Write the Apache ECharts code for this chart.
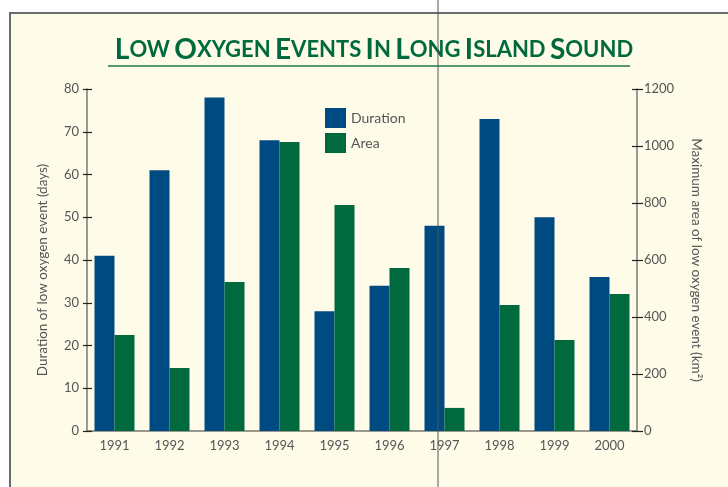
<!DOCTYPE html>
<html>
<head>
<meta charset="utf-8">
<script src="https://cdn.jsdelivr.net/npm/echarts@6/dist/echarts.min.js"></script>
<style>
html,body{margin:0;padding:0;background:#fff;}
#c{width:728px;height:487px;}
</style>
</head>
<body>
<div id="c"></div>
<script>
const years = ['1991','1992','1993','1994','1995','1996','1997','1998','1999','2000'];
const duration = [41, 61, 78, 68, 28, 34, 48, 73, 50, 36];
const area = [337, 221, 523, 1014, 793, 572, 81, 442, 319, 481];
const durationTicks = {min: 0, max: 80, interval: 10};
const areaTicks = {min: 0, max: 1200, interval: 200};

const FONT = 'Lato, "Open Sans", sans-serif';
const BLUE = '#004a82';
const GREEN = '#006a3e';
const TXT = '#555555';
const AX = '#7a7a72';

const chart = echarts.init(document.getElementById('c'), null, {renderer: 'canvas'});
const grid = {left: 87, right: 91, top: 89, bottom: 56};

chart.setOption({
  backgroundColor: '#ffffff',
  animation: false,
  textStyle: {fontFamily: FONT},
  title: {
    text: '{b|L}{s|OW} {b|O}{s|XYGEN} {b|E}{s|VENTS} {b|I}{s|N} {b|L}{s|ONG} {b|I}{s|SLAND} {b|S}{s|OUND}',
    left: 369,
    textAlign: 'center',
    top: 31,
    textStyle: {
      rich: {
        b: {fontFamily: FONT, fontWeight: 'bold', fontSize: 28, color: GREEN},
        s: {fontFamily: FONT, fontWeight: 'bold', fontSize: 22, color: GREEN}
      }
    }
  },
  legend: {
    orient: 'vertical',
    left: 325,
    top: 108,
    padding: 0,
    itemWidth: 21,
    itemHeight: 20,
    itemGap: 5,
    icon: 'rect',
    textStyle: {color: TXT, fontSize: 14, fontFamily: FONT},
    data: ['Duration', 'Area']
  },
  grid: grid,
  xAxis: [{
    type: 'category',
    data: years,
    axisLine: {lineStyle: {color: AX, width: 1.5}},
    axisTick: {alignWithLabel: true, length: 5, lineStyle: {color: '#222', width: 1.2}},
    axisLabel: {color: TXT, fontSize: 13, margin: 8, fontFamily: FONT}
  }, {
    type: 'category',
    data: years,
    position: 'bottom',
    axisLine: {show: false},
    axisTick: {alignWithLabel: true, inside: true, length: 4, lineStyle: {color: '#222', width: 1.2}},
    axisLabel: {show: false}
  }],
  yAxis: [{
    type: 'value',
    position: 'left',
    min: durationTicks.min, max: durationTicks.max, interval: durationTicks.interval,
    name: 'Duration of low oxygen event (days)',
    nameLocation: 'middle',
    nameGap: 37,
    nameTextStyle: {color: TXT, fontSize: 13.5, fontFamily: FONT, padding: [0, 20, 0, 0]},
    axisLine: {show: true, lineStyle: {color: AX, width: 1.5}},
    axisTick: {show: true, length: 4, lineStyle: {color: '#222', width: 1.2}},
    axisLabel: {color: TXT, fontSize: 13, margin: 8, fontFamily: FONT},
    splitLine: {show: false}
  }, {
    type: 'value',
    position: 'right',
    min: areaTicks.min, max: areaTicks.max, interval: areaTicks.interval,
    name: 'Maximum area of low oxygen event (km\u00B2)',
    nameLocation: 'middle',
    nameRotate: -90,
    nameGap: 52,
    nameTextStyle: {color: TXT, fontSize: 13.5, fontFamily: FONT},
    axisLine: {show: true, lineStyle: {color: AX, width: 1.5}},
    axisTick: {show: true, length: 6, lineStyle: {color: '#222', width: 1.2}},
    axisLabel: {color: TXT, fontSize: 13, margin: 7, fontFamily: FONT, formatter: function (v) { return String(v); }},
    splitLine: {show: false}
  }, {
    type: 'value',
    position: 'left',
    min: durationTicks.min, max: durationTicks.max, interval: durationTicks.interval,
    axisLine: {show: false},
    axisTick: {show: true, inside: true, length: 5, lineStyle: {color: '#222', width: 1.2}},
    axisLabel: {show: false},
    splitLine: {show: false}
  }, {
    type: 'value',
    position: 'right',
    min: areaTicks.min, max: areaTicks.max, interval: areaTicks.interval,
    axisLine: {show: false},
    axisTick: {show: true, inside: true, length: 5, lineStyle: {color: '#222', width: 1.2}},
    axisLabel: {show: false},
    splitLine: {show: false}
  }],
  series: [{
    name: 'Duration',
    type: 'bar',
    xAxisIndex: 0,
    yAxisIndex: 0,
    data: duration,
    barWidth: 20,
    barGap: '0%',
    itemStyle: {color: BLUE}
  }, {
    name: 'Area',
    type: 'bar',
    xAxisIndex: 0,
    yAxisIndex: 1,
    data: area,
    barWidth: 20,
    barGap: '0%',
    itemStyle: {color: GREEN}
  }],
  graphic: [{
    type: 'rect',
    z: -100,
    silent: true,
    shape: {x: 10, y: 13, width: 730, height: 490},
    style: {fill: '#fffbe9', stroke: '#6b6b6b', lineWidth: 2}
  }, {
    type: 'line',
    z: 100,
    silent: true,
    shape: {x1: 108, y1: 66, x2: 630, y2: 66},
    style: {stroke: '#1e7a4e', lineWidth: 1.5}
  }, {
    type: 'line',
    z: 100,
    silent: true,
    shape: {x1: 438, y1: 0, x2: 438, y2: 487},
    style: {stroke: '#555555', lineWidth: 1}
  }]
});
</script>
</body>
</html>
